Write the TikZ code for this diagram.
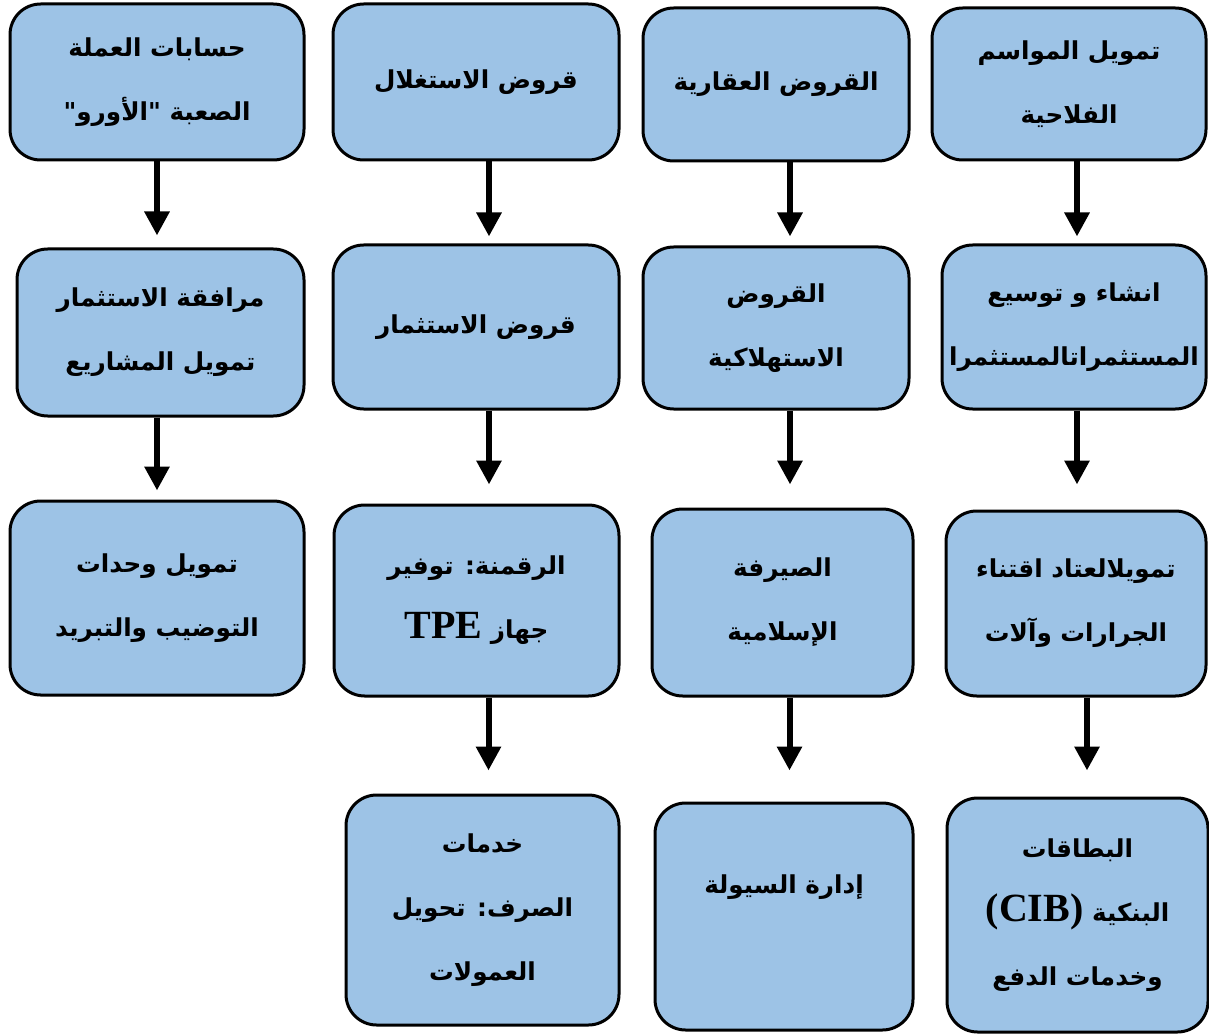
\documentclass[tikz,border=0pt]{standalone}
\usepackage{fontspec}
\usetikzlibrary{arrows.meta}
\newfontfamily\arabicfont[Script=Arabic]{DejaVu Sans}
\newfontfamily\latinfont{Liberation Serif}
\TeXXeTstate=1
\newcommand{\arLine}[1]{\beginR #1\endR}
\newcommand{\latinWord}[1]{\beginL{\latinfont\fontsize{30}{48}\selectfont #1}\endL}

\begin{document}
\begin{tikzpicture}[x=0.75pt, y=-0.75pt,
    serviceBox/.style={draw=borderColour, fill=boxFill, line width=2.25pt, rounded corners=23pt,
        align=center, inner sep=0pt, font=\arabicfont\bfseries\fontsize{18.5}{48}\selectfont},
    flowArrow/.style={line width=4.5pt, -{Triangle[width=18pt,length=18pt]}}]
    \def\pxSize{0.75pt}

    \definecolor{borderColour}{HTML}{000000}
    \definecolor{boxFill}{HTML}{9DC3E6}

    \useasboundingbox (0,0) rectangle (1209,1034);

    % Column A (left)
    \node[serviceBox, minimum width=294*\pxSize, minimum height=156*\pxSize] (A1) at (157,82)
        {\arLine{حسابات العملة}\\\arLine{الصعبة "الأورو"}};
    \node[serviceBox, minimum width=287*\pxSize, minimum height=167*\pxSize] (A2) at (160.5,332.5)
        {\arLine{مرافقة الاستثمار}\\\arLine{تمويل المشاريع}};
    \node[serviceBox, minimum width=294*\pxSize, minimum height=194*\pxSize] (A3) at (157,598)
        {\arLine{تمويل وحدات}\\\arLine{التوضيب والتبريد}};

    % Column B
    \node[serviceBox, minimum width=286*\pxSize, minimum height=156*\pxSize] (B1) at (476,82)
        {\arLine{قروض الاستغلال}};
    \node[serviceBox, minimum width=286*\pxSize, minimum height=164*\pxSize] (B2) at (476,327)
        {\arLine{قروض الاستثمار}};
    \node[serviceBox, minimum width=285*\pxSize, minimum height=191*\pxSize] (B3) at (476.5,600.5)
        {\arLine{الرقمنة: توفير}\\\arLine{جهاز \latinWord{TPE}}};
    \node[serviceBox, minimum width=273*\pxSize, minimum height=230*\pxSize] (B4) at (482.5,910)
        {\arLine{خدمات}\\\arLine{الصرف: تحويل}\\\arLine{العمولات}};

    % Column C
    \node[serviceBox, minimum width=266*\pxSize, minimum height=153*\pxSize] (C1) at (776,84.5)
        {\arLine{القروض العقارية}};
    \node[serviceBox, minimum width=266*\pxSize, minimum height=162*\pxSize] (C2) at (776,328)
        {\arLine{القروض}\\\arLine{الاستهلاكية}};
    \node[serviceBox, minimum width=261*\pxSize, minimum height=187*\pxSize] (C3) at (782.5,602.5)
        {\arLine{الصيرفة}\\\arLine{الإسلامية}};
    \node[serviceBox, minimum width=258*\pxSize, minimum height=227*\pxSize] (C4) at (784,916.5)
        {\arLine{إدارة السيولة}\\\mbox{}};

    % Column D (right)
    \node[serviceBox, minimum width=274*\pxSize, minimum height=152*\pxSize] (D1) at (1069,84)
        {\arLine{تمويل المواسم}\\\arLine{الفلاحية}};
    \node[serviceBox, minimum width=264*\pxSize, minimum height=164*\pxSize] (D2) at (1074,327)
        {\arLine{انشاء و توسيع}\\\arLine{المستثمراتالمستثمرا}};
    \node[serviceBox, minimum width=260*\pxSize, minimum height=185*\pxSize] (D3) at (1076,603.5)
        {\arLine{تمويلالعتاد اقتناء}\\\arLine{الجرارات وآلات}};
    \node[serviceBox, minimum width=261*\pxSize, minimum height=234*\pxSize] (D4) at (1077.5,915)
        {\arLine{البطاقات}\\\arLine{البنكية \latinWord{(CIB)}}\\\arLine{وخدمات الدفع}};

    % Arrows down each column
    \foreach \from/\to/\dx/\gap in {A1/A2/0/12, A2/A3/-3.5/9,
        B1/B2/13/7, B2/B3/13/19, B3/B4/12/23,
        C1/C2/14/9, C2/C3/14/23, C3/C4/7/31,
        D1/D2/8/7, D2/D3/3/25, D3/D4/11/26}
        \draw[flowArrow, shorten >=\gap*\pxSize] ([xshift=\dx*\pxSize]\from.south) -- ([xshift=\dx*\pxSize]\from.south |- \to.north);

\end{tikzpicture}
\end{document}
